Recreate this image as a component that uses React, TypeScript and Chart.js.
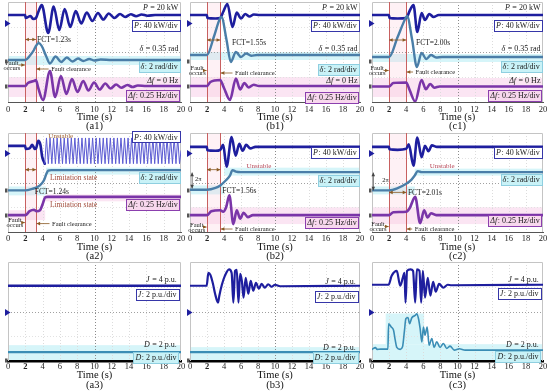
import React, { useEffect, useRef } from 'react';
import { Chart, registerables } from 'chart.js';

Chart.register(...registerables);

const FONT = '"Liberation Serif", "DejaVu Serif", serif';

// ---------------- data (screen units: 0 = bottom of plot, 100 = top) ----------------
// Row 1 : stable cases
const a1_P_t = [0, 1.98, 2.05, 2.6, 2.9, 3.23, 3.5, 3.9, 4.65, 5.28, 5.93, 6.55, 7.2, 7.83, 8.47, 9.1, 9.75, 10.4, 11.02, 11.65, 12.3, 12.95, 13.55, 14.2, 14.8, 15.45, 16.1, 17, 20];
const a1_P_v = [87, 87, 84, 86, 83, 84, 90, 97, 69, 95.5, 72, 93, 75, 91, 78.5, 89.5, 81, 89, 82.5, 88.5, 84, 88, 85, 87.7, 85.8, 87.5, 86.3, 87, 87];
const a1_d_t = [0, 2, 2.5, 3.0, 3.23, 3.55, 3.9, 4.4, 4.85, 5.5, 6.15, 6.8, 7.45, 8.1, 8.7, 9.4, 10.0, 10.7, 12, 20];
const a1_d_v = [42, 42, 46, 52, 56, 59, 56, 46, 38.5, 45.5, 40, 44.5, 40.5, 43.5, 41, 43, 41.5, 42.5, 42, 42];
const a1_f_t = [0, 2, 2.3, 3.0, 3.23, 3.5, 4.05, 4.85, 5.45, 6.12, 6.75, 7.4, 8.03, 8.7, 9.3, 9.95, 10.6, 11.25, 11.85, 12.5, 13.1, 13.8, 14.4, 15.0, 16, 20];
const a1_f_v = [16, 16, 19, 21, 22, 14, 2, 31, 5, 26, 8, 23, 10, 21, 11.5, 19.5, 12.5, 18.5, 13.5, 17.5, 14.3, 17, 15, 16.5, 16, 16];

const b1_P_t = [0, 1.98, 2.05, 3.0, 3.55, 3.9, 4.4, 5.0, 5.5, 6.0, 6.5, 7.0, 7.5, 8.2, 20];
const b1_P_v = [87, 87, 84, 83.5, 84, 90, 98, 75, 89.5, 83.5, 88, 85.5, 87.5, 87, 87];
const b1_d_t = [0, 2, 2.8, 3.55, 3.7, 4.3, 4.8, 5.4, 6.0, 6.6, 7.2, 7.9, 20];
const b1_d_v = [47, 47, 65, 84, 85, 62, 40, 50, 45, 48.5, 46.3, 47, 47];
const b1_f_t = [0, 2, 2.4, 3.55, 4.0, 4.7, 5.4, 5.9, 6.4, 6.9, 7.5, 8.1, 20];
const b1_f_v = [16, 16, 20, 22, 14, 2, 23.5, 12.5, 19, 14.5, 17.3, 16, 16];

const c1_P_t = [0, 1.98, 2.05, 3.0, 4.0, 4.45, 4.85, 5.3, 5.8, 6.2, 6.7, 7.2, 7.8, 20];
const c1_P_v = [87, 87, 84, 83.5, 84, 92, 97, 70, 89, 82, 88, 85, 87, 87];
const c1_d_t = [0, 2, 3.0, 4.0, 4.1, 4.7, 5.25, 5.8, 6.35, 6.9, 7.5, 8.2, 20];
const c1_d_v = [45, 45, 65, 85, 86, 62, 35, 49, 43, 47, 44.5, 45, 45];
const c1_f_t = [0, 2, 2.5, 4.0, 4.4, 5.05, 5.8, 6.3, 6.8, 7.3, 7.9, 20];
const c1_f_v = [15.5, 15.5, 19, 19.5, 12, 0.5, 22, 12.7, 18, 14.3, 15.5, 15.5];

// Row 2 : unstable cases
const a2_P_t = [0, 1.98, 2.05, 2.5, 2.8, 3.1, 3.24, 3.5, 3.75, 3.95, 4.25];
const a2_P_v = [87, 87, 84, 84.5, 88, 84, 84.5, 92, 88, 76, 69];
const a2_Posc_t = [4.25, 4.45, 4.66, 4.86, 5.07, 5.27, 5.48, 5.68, 5.89, 6.09, 6.30, 6.50, 6.71, 6.91, 7.12, 7.32, 7.53, 7.73, 7.94, 8.14, 8.35, 8.55, 8.76, 8.96, 9.17, 9.37, 9.58, 9.78, 9.99, 10.19, 10.40, 10.60, 10.81, 11.01, 11.22, 11.42, 11.63, 11.83, 12.04, 12.24, 12.45, 12.65, 12.86, 13.06, 13.27, 13.47, 13.68, 13.88, 14.09, 14.29, 14.50, 14.70, 14.91, 15.11, 15.32, 15.52, 15.73, 15.93, 16.14, 16.34, 16.55, 16.75, 16.96, 17.16, 17.37, 17.57, 17.78, 17.98, 18.19, 18.39, 18.60, 18.80, 19.01, 19.21, 19.42, 19.62, 19.83, 20];
const a2_Posc_v = [69, 95, 69, 95, 69, 95, 69, 95, 69, 95, 69, 95, 69, 95, 69, 95, 69, 95, 69, 95, 69, 95, 69, 95, 69, 95, 69, 95, 69, 95, 69, 95, 69, 95, 69, 95, 69, 95, 69, 95, 69, 95, 69, 95, 69, 95, 69, 95, 69, 95, 69, 95, 69, 95, 69, 95, 69, 95, 69, 95, 69, 95, 69, 95, 69, 95, 69, 95, 69, 95, 69, 95, 69, 95, 69, 95, 69, 82];
const a2_d_t = [0, 2, 2.8, 3.4, 3.9, 4.2, 4.45, 4.65, 5, 20];
const a2_d_v = [42, 42, 43.5, 45.5, 49, 53, 59, 62, 62.5, 62.5];
const a2_f_t = [0, 2, 2.5, 3.0, 3.3, 3.7, 4.0, 4.3, 4.6, 20];
const a2_f_v = [17, 17, 21, 22.5, 21, 22, 28, 35, 35.5, 35.5];

const b2_P_t = [0, 1.98, 2.05, 3.0, 3.56, 3.9, 4.3, 4.9, 5.37, 5.8, 6.2, 6.6, 7.1, 7.7, 20];
const b2_P_v = [86, 86, 82.5, 82, 83, 88, 66, 96, 77, 89, 82, 88, 84.5, 86, 86];
const b2_d_t = [0, 2, 3.0, 3.56, 4.2, 4.7, 5.0, 5.4, 6.0, 20];
const b2_d_v = [42.7, 42.7, 44.5, 47, 52, 57, 62.5, 61, 60.5, 60.5];
const b2_f_t = [0, 2, 2.5, 3.56, 3.9, 4.25, 4.63, 5.1, 5.5, 5.9, 6.3, 6.8, 7.4, 20];
const b2_f_v = [17, 17, 21, 22, 20.5, 25, 37, 8, 22, 13.5, 19.5, 15, 17, 17];

const c2_P_t = [0, 1.98, 2.05, 3.0, 4.0, 4.3, 4.85, 5.3, 5.8, 6.2, 6.6, 7.0, 7.6, 20];
const c2_P_v = [86, 86, 83.5, 83, 84, 88.5, 67, 95.5, 75.5, 87, 81.5, 87.5, 86, 86];
const c2_d_t = [0, 2, 3.0, 4.0, 4.6, 5.0, 5.35, 5.8, 20];
const c2_d_v = [42, 42, 44.3, 48.7, 52.7, 57, 61.5, 60.5, 60.5];
const c2_f_t = [0, 2, 2.5, 4.0, 4.4, 5.05, 5.63, 6.1, 6.5, 6.9, 7.5, 20];
const c2_f_v = [17, 17, 20, 20.5, 24, 35.5, 9, 22, 14.7, 19, 17, 17];

// Row 3 : inertia J and damping D
const a3_J_t = [0, 20];
const a3_J_v = [76, 76];
const a3_D_t = [0, 20];
const a3_D_v = [9, 9];

const b3_J_t = [0, 1.96, 2.16, 2.4, 2.7, 2.95, 3.3, 3.45, 3.75, 4.1, 4.6, 4.9, 5.1, 5.3, 5.5, 5.7, 5.9, 6.1, 6.3, 6.55, 6.86, 7.14, 7.45, 7.76, 8.1, 8.43, 8.8, 9.2, 9.6, 10.0, 10.6, 20];
const b3_J_v = [76, 76, 89, 87, 78, 68, 59, 66, 77, 86, 92.5, 89, 59, 91, 92, 59, 88, 81, 64, 84, 68, 81, 71, 79, 73, 78, 74, 77.5, 75, 77, 75.5, 76];
const b3_D_t = [0, 20];
const b3_D_v = [9, 9];

const c3_J_t = [0, 1.94, 2.3, 2.9, 3.3, 3.6, 3.8, 3.92, 4.1, 4.5, 4.8, 5.05, 5.25, 5.55, 5.75, 5.95, 6.2, 6.52, 6.83, 7.15, 7.46, 7.84, 8.35, 8.85, 9.3, 20];
const c3_J_v = [77, 77, 86, 91, 76, 84, 89, 59, 91, 92.5, 91, 59, 92.5, 91, 59, 91, 64, 84, 66, 80, 70, 78, 74, 77, 76.5, 77];
const c3_D_t = [0, 0.4, 0.6, 1.0, 1.86, 1.94, 2.25, 2.52, 2.72, 2.9, 3.3, 3.57, 3.8, 3.96, 4.2, 4.4, 4.66, 5.05, 5.24, 5.44, 5.63, 5.83, 6.02, 6.2, 6.45, 6.68, 7.0, 7.26, 7.57, 7.96, 8.35, 8.74, 9.13, 9.63, 10.2, 10.9, 20];
const c3_D_v = [11.7, 13.5, 11.7, 12, 12, 37.7, 34.3, 31, 21, 13.7, 11.7, 14.3, 31, 42.7, 44, 37.7, 43.7, 46, 47.7, 42.7, 32.7, 19.3, 34.3, 26, 34.3, 16, 22.7, 13.7, 19.3, 13.7, 17.7, 12.7, 15, 11, 12.3, 11, 11];

// fault clearing instants (s)
const FAULT_START = 2;
const CLEAR_A1 = 3.23, CLEAR_B1 = 3.55, CLEAR_C1 = 4.0;
const CLEAR_A2 = 3.24, CLEAR_B2 = 3.56, CLEAR_C2 = 4.01;

// ---------------- styles ----------------
const C_P = '#1e1e9e';
const C_D = '#4a7ea8';
const C_F = '#7a35a8';
const C_OSC = '#5a5ad2';
const C_DD = '#3a8db5';
const C_RED = '#c86060';
const C_ARW = '#8a5a24';
const CYAN = '#d6f5f9';
const PINK = '#fbe5f3';
const BOX_P = { fill: '#ffffff', stroke: '#3636a8' };
const BOX_D = { fill: '#c9f2f7', stroke: '#8fcfe0' };
const BOX_F = { fill: '#f8d8ee', stroke: '#8b3fae' };

type Trace = { t: number[]; v: number[]; color: string; width: number; straight?: boolean };
type Txt = { t: number; v: number; text: string; sym?: string; align?: 'left' | 'right' | 'center'; size?: number; color?: string; box?: { fill: string; stroke: string } };
type Arrow = { t0: number; v0: number; t1: number; v1: number; both?: boolean; color?: string };
type Band = { v0: number; v1: number; color: string; t0?: number; t1?: number };
type Marker = { v: number; color: string; tri?: boolean };
type PanelSpec = {
  id: string; label: string; left: number; top: number; w: number; h: number;
  tickPad: number; titleLH: number; titlePad: number;
  traces: Trace[]; bands: Band[]; fault?: [number, number];
  texts: Txt[]; arrows: Arrow[]; markers: Marker[];
  borderColor: string; borderWidth: number;
};

const PADL = 14, PADR = 8, PADT = 2, XH = 30;
const COLS = [{ left: 8, w: 173 }, { left: 190, w: 170 }, { left: 372, w: 171 }];
const ROWS = [
  { top: 2, h: 100, tickPad: 3.5, titleLH: 9, titlePad: 1.5 },
  { top: 133, h: 99, tickPad: 2.5, titleLH: 9, titlePad: 1.5 },
  { top: 262, h: 99, tickPad: 1.5, titleLH: 10, titlePad: 1 },
];

const tr = (t: number[], v: number[], color: string, width: number, straight = false): Trace => ({ t, v, color, width, straight });

function row1Texts(dBox: number, fBox: number): Txt[] {
  return [
    { t: 19.7, v: 95, sym: 'P', text: ' = 20 kW', align: 'right' },
    { t: 19.85, v: 77, sym: 'P', text: ': 40 kW/div', align: 'right', box: BOX_P },
    { t: 19.7, v: 53.5, sym: 'δ', text: ' = 0.35 rad', align: 'right' },
    { t: 19.85, v: dBox, sym: 'δ', text: ': 2 rad/div', align: 'right', box: BOX_D },
    { t: 19.7, v: 22, sym: 'Δf', text: ' = 0 Hz', align: 'right' },
    { t: 19.85, v: fBox, sym: 'Δf', text: ': 0.25 Hz/div', align: 'right', box: BOX_F },
  ];
}

function faultTexts(ot: number, ov: number, ct: number, cv: number): Txt[] {
  return [
    { t: ot, v: ov, text: 'Fault', align: 'center', size: 6.5 },
    { t: ot, v: ov - 5, text: 'occurs', align: 'center', size: 6.5 },
    { t: ct, v: cv, text: 'Fault clearance', align: 'left', size: 6.5 },
  ];
}

function faultArrows(ot: number, ov: number, ct: number, cv: number, tc: number): Arrow[] {
  return [
    { t0: ot + 0.75, v0: ov - 2.5, t1: FAULT_START - 0.05, v1: ov - 2.5, color: C_ARW },
    { t0: ct - 0.3, v0: cv, t1: tc + 0.06, v1: cv, color: C_ARW },
  ];
}

const row1Markers: Marker[] = [{ v: 78.5, color: C_P, tri: true }, { v: 41, color: '#555' }, { v: 16, color: '#555' }];
const row2Markers: Marker[] = [{ v: 80, color: C_P, tri: true }, { v: 42, color: '#555' }, { v: 17.5, color: '#555' }];
const row3Markers: Marker[] = [{ v: 50, color: C_P, tri: true }, { v: 1, color: '#555' }];

const PANELS: PanelSpec[] = [
  // ---------- row 1 ----------
  {
    id: 'a1', label: '(a1)', ...COLS[0], ...ROWS[0],
    traces: [tr(a1_f_t, a1_f_v, C_F, 2.6), tr(a1_d_t, a1_d_v, C_D, 2.4), tr(a1_P_t, a1_P_v, C_P, 2.6)],
    bands: [{ v0: 37, v1: 46, color: CYAN }, { v0: 5, v1: 25, color: PINK }],
    fault: [FAULT_START, CLEAR_A1],
    texts: [...row1Texts(36, 7), { t: 3.35, v: 62.5, text: 'FCT=1.23s', align: 'left', size: 7.5 }, ...faultTexts(0.45, 39.5, 5.0, 33)],
    arrows: [{ t0: FAULT_START, v0: 62.5, t1: CLEAR_A1, v1: 62.5, both: true, color: C_ARW }, ...faultArrows(0.45, 39.5, 5.0, 33, CLEAR_A1)],
    markers: row1Markers, borderColor: '#555', borderWidth: 1,
  },
  {
    id: 'b1', label: '(b1)', ...COLS[1], ...ROWS[0],
    traces: [tr(b1_f_t, b1_f_v, C_F, 2.6), tr(b1_d_t, b1_d_v, C_D, 2.4), tr(b1_P_t, b1_P_v, C_P, 2.6)],
    bands: [{ v0: 42, v1: 50, color: CYAN }, { v0: 5, v1: 25, color: PINK }],
    fault: [FAULT_START, CLEAR_B1],
    texts: [...row1Texts(33, 4.5), { t: 4.95, v: 59, text: 'FCT=1.55s', align: 'left', size: 7.5 }, ...faultTexts(0.85, 34, 5.3, 29)],
    arrows: [{ t0: FAULT_START, v0: 62, t1: CLEAR_B1, v1: 62, both: true, color: C_ARW }, ...faultArrows(0.85, 34, 5.3, 29, CLEAR_B1)],
    markers: row1Markers, borderColor: '#555', borderWidth: 1,
  },
  {
    id: 'c1', label: '(c1)', ...COLS[2], ...ROWS[0],
    traces: [tr(c1_f_t, c1_f_v, C_F, 2.6), tr(c1_d_t, c1_d_v, C_D, 2.4), tr(c1_P_t, c1_P_v, C_P, 2.6)],
    bands: [{ v0: 40, v1: 48, color: CYAN }, { v0: 5, v1: 24, color: PINK }],
    fault: [FAULT_START, CLEAR_C1],
    texts: [...row1Texts(36, 7), { t: 5.15, v: 59, text: 'FCT=2.00s', align: 'left', size: 7.5 }, ...faultTexts(0.6, 34, 5.1, 30)],
    arrows: [{ t0: FAULT_START, v0: 62, t1: CLEAR_C1, v1: 62, both: true, color: C_ARW }, ...faultArrows(0.6, 34, 5.1, 30, CLEAR_C1)],
    markers: row1Markers, borderColor: '#555', borderWidth: 1,
  },
  // ---------- row 2 ----------
  {
    id: 'a2', label: '(a2)', ...COLS[0], ...ROWS[1],
    traces: [tr(a2_f_t, a2_f_v, C_F, 2.6), tr(a2_d_t, a2_d_v, C_D, 2.4), tr(a2_Posc_t, a2_Posc_v, C_OSC, 1, true), tr(a2_P_t, a2_P_v, C_P, 2.6)],
    bands: [{ v0: 58, v1: 65, color: CYAN, t0: 4.4 }, { v0: 37, v1: 46, color: CYAN, t1: 4.4 }, { v0: 31, v1: 38, color: PINK, t0: 4.3 }, { v0: 12, v1: 22, color: PINK, t1: 4.3 }],
    fault: [FAULT_START, CLEAR_A2],
    texts: [
      { t: 6.1, v: 97.5, text: 'Unstable', align: 'center', size: 7, color: '#9b5b2b' },
      { t: 19.85, v: 96, sym: 'P', text: ': 40 kW/div', align: 'right', box: BOX_P },
      { t: 4.85, v: 55, text: 'Limitation state', align: 'left', size: 7.5, color: '#a04a3a' },
      { t: 19.85, v: 55, sym: 'δ', text: ': 2 rad/div', align: 'right', box: BOX_D },
      { t: 3.1, v: 41, text: 'FCT=1.24s', align: 'left', size: 7.5 },
      { t: 4.85, v: 28, text: 'Limitation state', align: 'left', size: 7.5, color: '#a04a3a' },
      { t: 19.85, v: 28, sym: 'Δf', text: ': 0.25 Hz/div', align: 'right', box: BOX_F },
      ...faultTexts(0.8, 12, 5.1, 8.5),
    ],
    arrows: [{ t0: FAULT_START, v0: 63, t1: CLEAR_A2, v1: 63, both: true, color: C_ARW }, ...faultArrows(0.8, 12, 5.1, 8.5, CLEAR_A2)],
    markers: row2Markers, borderColor: '#555', borderWidth: 1,
  },
  {
    id: 'b2', label: '(b2)', ...COLS[1], ...ROWS[1],
    traces: [tr(b2_f_t, b2_f_v, C_F, 2.6), tr(b2_d_t, b2_d_v, C_D, 2.4), tr(b2_P_t, b2_P_v, C_P, 2.6)],
    bands: [{ v0: 57, v1: 65, color: CYAN, t0: 4 }, { v0: 38, v1: 47, color: CYAN, t1: 4 }, { v0: 8, v1: 25, color: PINK }],
    fault: [FAULT_START, CLEAR_B2],
    texts: [
      { t: 19.85, v: 80, sym: 'P', text: ': 40 kW/div', align: 'right', box: BOX_P },
      { t: 8.1, v: 67, text: 'Unstable', align: 'center', size: 7, color: '#b84a5a' },
      { t: 0.6, v: 54, text: '2π', align: 'left', size: 6.5 },
      { t: 19.85, v: 52, sym: 'δ', text: ': 2 rad/div', align: 'right', box: BOX_D },
      { t: 3.8, v: 42, text: 'FCT=1.56s', align: 'left', size: 7.5 },
      { t: 19.85, v: 10, sym: 'Δf', text: ': 0.25 Hz/div', align: 'right', box: BOX_F },
      ...faultTexts(0.8, 7.5, 5.3, 3),
    ],
    arrows: [
      { t0: FAULT_START, v0: 63, t1: CLEAR_B2, v1: 63, both: true, color: C_ARW },
      { t0: 0.25, v0: 44, t1: 0.25, v1: 60, both: true, color: '#444' },
      ...faultArrows(0.8, 7.5, 5.3, 3, CLEAR_B2),
    ],
    markers: row2Markers, borderColor: '#555', borderWidth: 1,
  },
  {
    id: 'c2', label: '(c2)', ...COLS[2], ...ROWS[1],
    traces: [tr(c2_f_t, c2_f_v, C_F, 2.6), tr(c2_d_t, c2_d_v, C_D, 2.4), tr(c2_P_t, c2_P_v, C_P, 2.6)],
    bands: [{ v0: 57, v1: 64, color: CYAN, t0: 5 }, { v0: 38, v1: 46, color: CYAN, t1: 5 }, { v0: 8, v1: 25, color: PINK }],
    fault: [FAULT_START, CLEAR_C2],
    texts: [
      { t: 19.85, v: 80, sym: 'P', text: ': 40 kW/div', align: 'right', box: BOX_P },
      { t: 8.2, v: 67, text: 'Unstable', align: 'center', size: 7, color: '#b84a5a' },
      { t: 1.2, v: 53, text: '2π', align: 'left', size: 6.5 },
      { t: 19.85, v: 53, sym: 'δ', text: ': 2 rad/div', align: 'right', box: BOX_D },
      { t: 4.2, v: 40, text: 'FCT=2.01s', align: 'left', size: 7.5 },
      { t: 19.85, v: 12, sym: 'Δf', text: ': 0.25 Hz/div', align: 'right', box: BOX_F },
      ...faultTexts(0.7, 8, 5.0, 3),
    ],
    arrows: [
      { t0: FAULT_START, v0: 40, t1: CLEAR_C2, v1: 40, both: true, color: C_ARW },
      { t0: 0.15, v0: 42, t1: 0.15, v1: 60, both: true, color: '#444' },
      ...faultArrows(0.7, 8, 5.0, 3, CLEAR_C2),
    ],
    markers: row2Markers, borderColor: '#555', borderWidth: 1,
  },
  // ---------- row 3 ----------
  {
    id: 'a3', label: '(a3)', ...COLS[0], ...ROWS[2],
    traces: [tr(a3_D_t, a3_D_v, C_DD, 2.2), tr(a3_J_t, a3_J_v, C_P, 2.6)],
    bands: [{ v0: 1, v1: 16, color: CYAN }],
    texts: [
      { t: 19.5, v: 82.5, sym: 'J', text: ' = 4 p.u.', align: 'right' },
      { t: 19.7, v: 67, sym: 'J', text: ': 2 p.u./div', align: 'right', box: BOX_P },
      { t: 19.5, v: 17, sym: 'D', text: ' = 2 p.u.', align: 'right' },
      { t: 19.7, v: 4, sym: 'D', text: ': 2 p.u./div', align: 'right', box: BOX_D },
    ],
    arrows: [], markers: row3Markers, borderColor: '#000', borderWidth: 2.5,
  },
  {
    id: 'b3', label: '(b3)', ...COLS[1], ...ROWS[2],
    traces: [tr(b3_D_t, b3_D_v, C_DD, 2.2), tr(b3_J_t, b3_J_v, C_P, 2.2)],
    bands: [{ v0: 1, v1: 14, color: CYAN }],
    texts: [
      { t: 19.5, v: 80.5, sym: 'J', text: ' = 4 p.u.', align: 'right' },
      { t: 19.7, v: 65.5, sym: 'J', text: ': 2 p.u./div', align: 'right', box: BOX_P },
      { t: 19.5, v: 14, sym: 'D', text: ' = 2 p.u.', align: 'right' },
      { t: 19.7, v: 3.5, sym: 'D', text: ': 2 p.u./div', align: 'right', box: BOX_D },
    ],
    arrows: [], markers: row3Markers, borderColor: '#000', borderWidth: 2.5,
  },
  {
    id: 'c3', label: '(c3)', ...COLS[2], ...ROWS[2],
    traces: [tr(c3_D_t, c3_D_v, C_DD, 1.6), tr(c3_J_t, c3_J_v, C_P, 2.2)],
    bands: [{ v0: 1, v1: 17, color: CYAN }, { v0: 17, v1: 48, color: CYAN, t0: 1.6, t1: 6.1 }],
    texts: [
      { t: 19.5, v: 82.5, sym: 'J', text: ' = 4 p.u.', align: 'right' },
      { t: 19.7, v: 68.5, sym: 'J', text: ': 2 p.u./div', align: 'right', box: BOX_P },
      { t: 19.5, v: 16.5, sym: 'D', text: ' = 2 p.u.', align: 'right' },
      { t: 19.7, v: 4.5, sym: 'D', text: ': 2 p.u./div', align: 'right', box: BOX_D },
    ],
    arrows: [], markers: row3Markers, borderColor: '#000', borderWidth: 2.5,
  },
];

const GRID_V = [25, 50, 75];

function drawHead(ctx: CanvasRenderingContext2D, x: number, y: number, ang: number) {
  const L = 3.6, W = 1.8;
  const c = Math.cos(ang), s = Math.sin(ang);
  ctx.beginPath();
  ctx.moveTo(x, y);
  ctx.lineTo(x - L * c + W * s, y - L * s - W * c);
  ctx.lineTo(x - L * c - W * s, y - L * s + W * c);
  ctx.closePath();
  ctx.fill();
}

function makePlugin(spec: PanelSpec) {
  return {
    id: 'scope-' + spec.id,
    beforeDatasetsDraw(chart: any) {
      const { ctx, chartArea: a } = chart;
      const x = chart.scales.x, y = chart.scales.y;
      ctx.save();
      for (const b of spec.bands) {
        const x0 = b.t0 === undefined ? a.left : x.getPixelForValue(b.t0);
        const x1 = b.t1 === undefined ? a.right : x.getPixelForValue(b.t1);
        const y0 = y.getPixelForValue(b.v1), y1 = y.getPixelForValue(b.v0);
        ctx.fillStyle = b.color;
        ctx.fillRect(x0, y0, x1 - x0, y1 - y0);
      }
      if (spec.fault) {
        const x0 = x.getPixelForValue(spec.fault[0]), x1 = x.getPixelForValue(spec.fault[1]);
        ctx.fillStyle = 'rgba(250,205,220,0.28)';
        ctx.fillRect(x0, a.top, x1 - x0, a.bottom - a.top);
      }
      ctx.lineWidth = 1;
      ctx.setLineDash([1, 2]);
      for (const tk of x.ticks) {
        if (tk.value <= 0 || tk.value >= 20) continue;
        const px = Math.round(x.getPixelForValue(tk.value)) + 0.5;
        ctx.strokeStyle = tk.value === 10 ? '#8a8a8a' : '#dcdcdc';
        ctx.beginPath(); ctx.moveTo(px, a.top); ctx.lineTo(px, a.bottom); ctx.stroke();
      }
      for (const gv of GRID_V) {
        const py = Math.round(y.getPixelForValue(gv)) + 0.5;
        ctx.strokeStyle = gv === 50 ? '#a0a0a0' : '#e2e2e2';
        ctx.beginPath(); ctx.moveTo(a.left, py); ctx.lineTo(a.right, py); ctx.stroke();
      }
      ctx.setLineDash([]);
      ctx.strokeStyle = '#c4c4c4';
      ctx.beginPath();
      ctx.moveTo(a.left + 0.5, a.bottom); ctx.lineTo(a.left + 0.5, a.top + 0.5);
      ctx.lineTo(a.right - 0.5, a.top + 0.5); ctx.lineTo(a.right - 0.5, a.bottom);
      ctx.stroke();
      if (spec.fault) {
        ctx.strokeStyle = C_RED;
        for (const ft of spec.fault) {
          const px = Math.round(x.getPixelForValue(ft)) + 0.5;
          ctx.beginPath(); ctx.moveTo(px, a.top); ctx.lineTo(px, a.bottom); ctx.stroke();
        }
      }
      ctx.restore();
    },
    afterDatasetsDraw(chart: any) {
      const { ctx, chartArea: a } = chart;
      const x = chart.scales.x, y = chart.scales.y;
      ctx.save();
      for (const ar of spec.arrows) {
        const x0 = x.getPixelForValue(ar.t0), y0 = y.getPixelForValue(ar.v0);
        const x1 = x.getPixelForValue(ar.t1), y1 = y.getPixelForValue(ar.v1);
        ctx.strokeStyle = ar.color || C_ARW; ctx.fillStyle = ar.color || C_ARW;
        ctx.lineWidth = 0.8;
        ctx.beginPath(); ctx.moveTo(x0, y0); ctx.lineTo(x1, y1); ctx.stroke();
        const ang = Math.atan2(y1 - y0, x1 - x0);
        drawHead(ctx, x1, y1, ang);
        if (ar.both) drawHead(ctx, x0, y0, ang + Math.PI);
      }
      ctx.textBaseline = 'middle';
      for (const tx of spec.texts) {
        const size = tx.size || 8;
        const fI = `italic ${size}px ${FONT}`, fN = `${size}px ${FONT}`;
        ctx.font = fI;
        const w1 = tx.sym ? ctx.measureText(tx.sym).width : 0;
        ctx.font = fN;
        const w2 = ctx.measureText(tx.text).width;
        const W = w1 + w2 + (tx.sym ? 0.5 : 0);
        const px = x.getPixelForValue(tx.t), py = y.getPixelForValue(tx.v);
        const pad = 2;
        let x0 = tx.align === 'right' ? px - W : tx.align === 'center' ? px - W / 2 : px;
        if (tx.box) {
          x0 -= pad;
          ctx.fillStyle = tx.box.fill;
          ctx.strokeStyle = tx.box.stroke;
          ctx.lineWidth = 1;
          const bx = Math.round(x0 - pad) + 0.5, by = Math.round(py - size / 2 - 1.5) + 0.5;
          const bw = Math.round(W + 2 * pad), bh = Math.round(size + 3);
          ctx.fillRect(bx, by, bw, bh);
          ctx.strokeRect(bx, by, bw, bh);
        }
        ctx.fillStyle = tx.color || '#1a1a1a';
        ctx.textAlign = 'left';
        if (tx.sym) {
          ctx.font = fI;
          ctx.fillText(tx.sym, x0, py + 0.5);
        }
        ctx.font = fN;
        ctx.fillText(tx.text, x0 + w1 + (tx.sym ? 0.5 : 0), py + 0.5);
      }
      for (const m of spec.markers) {
        const py = Math.round(y.getPixelForValue(m.v)) + 0.5;
        ctx.fillStyle = m.color;
        if (m.tri) {
          ctx.beginPath();
          ctx.moveTo(a.left - 3, py - 3.5); ctx.lineTo(a.left + 2.5, py); ctx.lineTo(a.left - 3, py + 3.5);
          ctx.closePath(); ctx.fill();
        } else {
          ctx.fillRect(a.left - 3, py - 2, 2.5, 4);
        }
      }
      ctx.restore();
    },
  };
}

function ScopePanel({ spec }: { spec: PanelSpec }) {
  const ref = useRef<HTMLCanvasElement | null>(null);
  const W = spec.w + PADL + PADR;
  const H = PADT + spec.h + XH;
  useEffect(() => {
    if (!ref.current) return;
    const chart = new Chart(ref.current, {
      type: 'line',
      data: {
        datasets: spec.traces.map((t) => ({
          data: t.t.map((tt, i) => ({ x: tt, y: t.v[i] })),
          borderColor: t.color,
          borderWidth: t.width,
          pointRadius: 0,
          fill: false,
          tension: 0,
          cubicInterpolationMode: t.straight ? 'default' : 'monotone',
          borderJoinStyle: 'round',
          borderCapStyle: 'round',
        })) as any,
      },
      options: {
        responsive: false,
        animation: false,
        devicePixelRatio: 1,
        events: [],
        layout: { padding: { left: PADL, right: PADR, top: PADT, bottom: 0 } },
        plugins: { legend: { display: false }, tooltip: { enabled: false }, title: { display: false } },
        scales: {
          x: {
            type: 'linear', min: 0, max: 20, position: 'bottom',
            afterFit: (s: any) => { s.height = XH; },
            ticks: {
              stepSize: 2, autoSkip: false, maxRotation: 0, padding: spec.tickPad, color: '#222',
              font: (c: any) => ({ family: FONT, size: 8.5, lineHeight: 1, weight: c.tick && c.tick.value === 2 ? 'bold' : 'normal' }),
            },
            grid: { display: false, drawTicks: false },
            border: { display: true, color: spec.borderColor, width: spec.borderWidth },
            title: {
              display: true, text: ['Time (s)', spec.label], color: '#111',
              font: { family: FONT, size: 10.5, lineHeight: `${spec.titleLH}px` },
              padding: { top: 0, bottom: spec.titlePad },
            },
          },
          y: { type: 'linear', min: 0, max: 100, display: false },
        },
      } as any,
      plugins: [makePlugin(spec)],
    });
    return () => chart.destroy();
  }, [spec]);
  return (
    <canvas
      ref={ref}
      width={W}
      height={H}
      style={{ position: 'absolute', left: spec.left - PADL, top: spec.top - PADT, width: W, height: H }}
    />
  );
}

export default function App() {
  return (
    <div style={{ position: 'fixed', left: 0, top: 0, width: 550, height: 392, background: '#ffffff', overflow: 'hidden' }}>
      {PANELS.map((p) => <ScopePanel key={p.id} spec={p} />)}
    </div>
  );
}
